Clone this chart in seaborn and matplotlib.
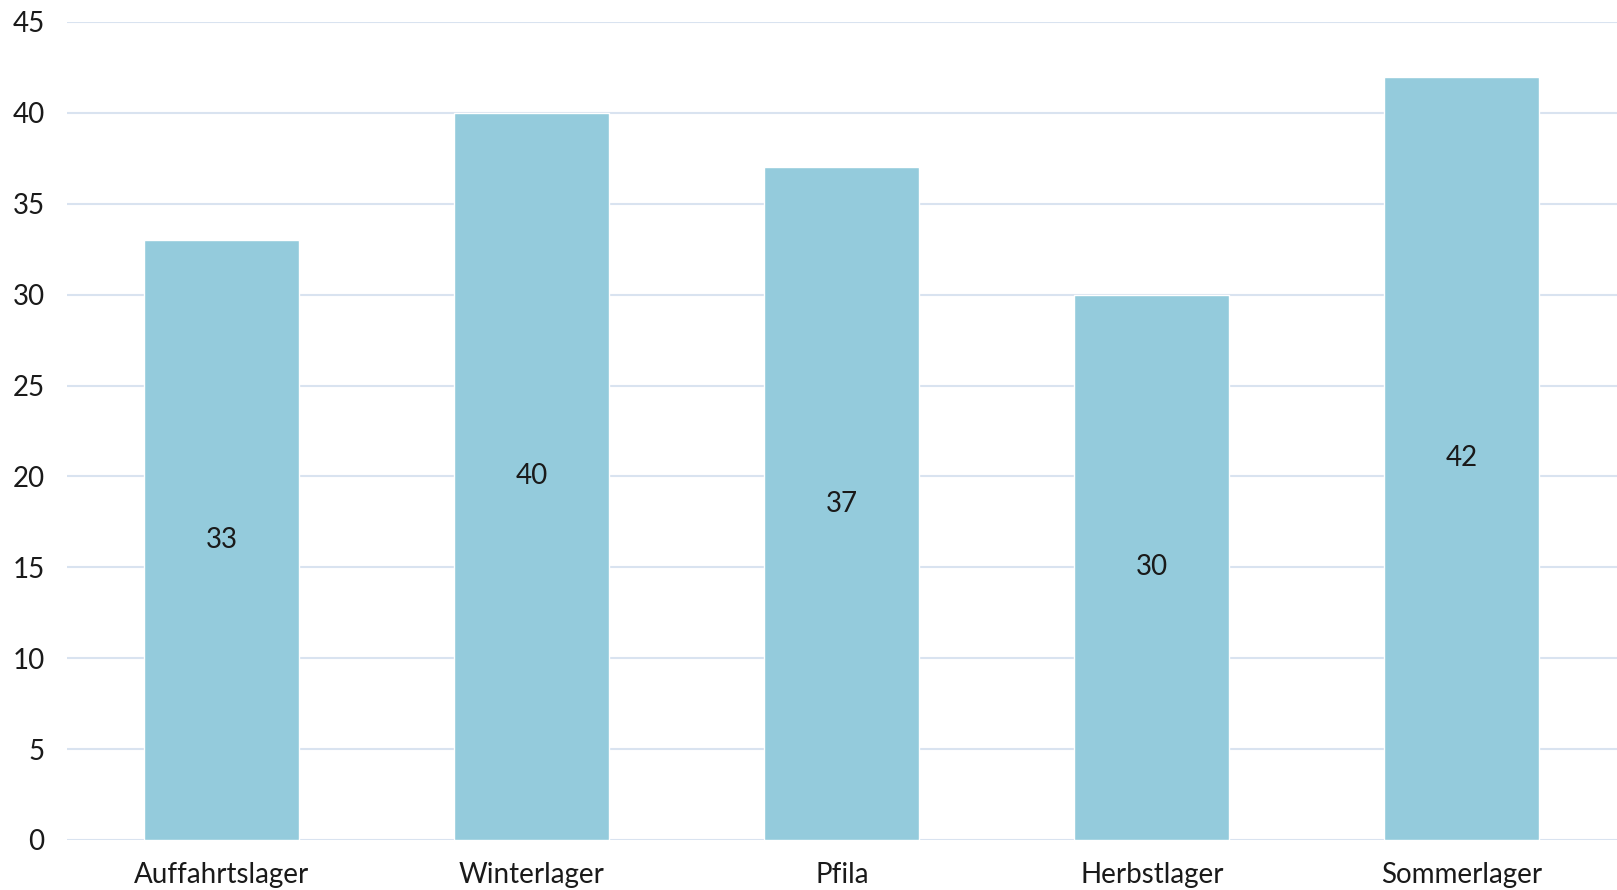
import pandas as pd
import matplotlib.pyplot as plt
import seaborn as sns

camps = ["Auffahrtslager", "Winterlager", "Pfila", "Herbstlager", "Sommerlager"]
counts = [33, 40, 37, 30, 42]
y_ticks = [0, 5, 10, 15, 20, 25, 30, 35, 40, 45]

df = pd.DataFrame({"camp": camps, "count": counts})

sns.set_style("white")
plt.rcParams["font.family"] = ["Lato", "DejaVu Sans"]

fig = plt.figure(figsize=(16.17, 8.9), dpi=100)
ax = fig.add_axes([0.0414, 0.0562, 0.9586, 0.9191])

sns.barplot(data=df, x="camp", y="count", color="#94CBDC", width=0.5,
            saturation=1, ax=ax, zorder=2)

for c in ax.containers:
    ax.bar_label(c, labels=[str(v) for v in counts], label_type="center",
                 fontsize=20, color="#1a1a1a")

ax.set_ylim(0, 45)
ax.set_xlim(-0.5, 4.5)
ax.set_yticks(y_ticks)
ax.grid(axis="y", color="#D9E3F0", linewidth=1.5, zorder=0)
ax.set_axisbelow(True)
sns.despine(ax=ax, left=True, bottom=True, top=True, right=True)
ax.tick_params(axis="both", length=0, labelsize=20, colors="#1a1a1a")
ax.tick_params(axis="y", pad=16)
ax.tick_params(axis="x", pad=16)
ax.set_xlabel("")
ax.set_ylabel("")

fig.savefig("out.png", dpi=100)
plt.close(fig)
